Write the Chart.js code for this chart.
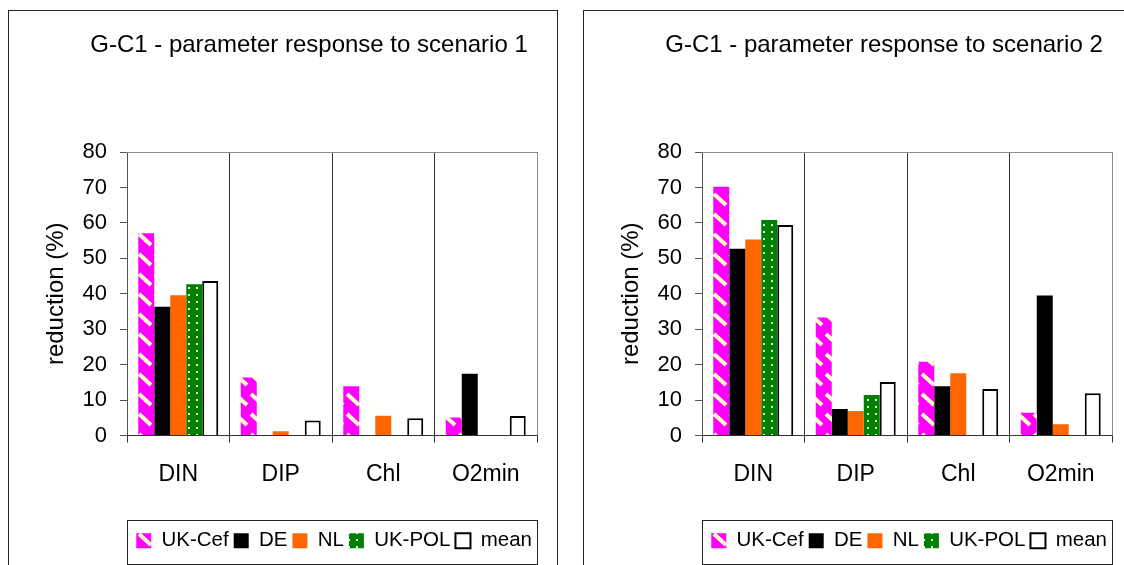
<!DOCTYPE html>
<html>
<head>
<meta charset="utf-8">
<script src="https://cdn.jsdelivr.net/npm/chart.js@4/dist/chart.umd.min.js"></script>
<style>
    html, body { margin: 0; padding: 0; background: #fff; overflow: hidden; }
    body { width: 1124px; height: 565px; position: relative; }
    .panel { position: absolute; top: 10px; width: 548px; height: 600px; border: 1px solid #222; background: #fff; }
    .panel canvas { position: absolute; left: 0; top: 0; }
</style>
</head>
<body>
<div class="panel" style="left:8px"><canvas id="chart1" width="548" height="554"></canvas></div>
<div class="panel" style="left:583px"><canvas id="chart2" width="548" height="554"></canvas></div>
<script>
// ---- data ----
const categories = ['DIN', 'DIP', 'Chl', 'O2min'];
const seriesNames = ['UK-Cef', 'DE', 'NL', 'UK-POL', 'mean'];
const yTickValues = [0, 10, 20, 30, 40, 50, 60, 70, 80];

// scenario 1
const s1UkCef = [57.1, 16.4, 13.9, 5.1];
const s1De    = [36.3, null, null, 17.4];
const s1Nl    = [39.6, 1.2, 5.6, null];
const s1UkPol = [42.7, null, null, null];
const s1Mean  = [43.6, 4.2, 4.9, 5.5];

// scenario 2
const s2UkCef = [70.2, 33.3, 20.8, 6.4];
const s2De    = [52.7, 7.5, 13.9, 39.5];
const s2Nl    = [55.3, 6.9, 17.6, 3.2];
const s2UkPol = [60.8, 11.4, null, null];
const s2Mean  = [59.4, 15.1, 13.1, 11.9];

const FONT = '"Liberation Sans", Arial, sans-serif';

// ---- fill patterns (Excel-like) ----
function makeStripePattern() {
    const c = document.createElement('canvas');
    c.width = 16; c.height = 20;
    const g = c.getContext('2d');
    g.fillStyle = '#ff00ff';
    g.fillRect(0, 0, 16, 20);
    g.strokeStyle = '#ffffc4';
    g.lineWidth = 4;
    g.beginPath();
    g.moveTo(2, 3);
    g.lineTo(14, 14);
    g.stroke();
    return g.createPattern(c, 'repeat');
}

function makeDotPattern() {
    const c = document.createElement('canvas');
    c.width = 8; c.height = 7;
    const g = c.getContext('2d');
    g.fillStyle = '#008000';
    g.fillRect(0, 0, 8, 7);
    g.fillStyle = '#eef5dd';
    g.fillRect(3, 3, 2, 2);
    return g.createPattern(c, 'repeat');
}

const stripeFill = makeStripePattern();
const dotFill = makeDotPattern();

// title + plot frame + legend frame
const framePlugin = {
    id: 'frame',
    afterDraw(chart, args, opts) {
        const { ctx, chartArea: a, legend } = chart;
        ctx.save();
        // plot area top/right border
        ctx.strokeStyle = '#8c8c8c';
        ctx.lineWidth = 1;
        ctx.beginPath();
        ctx.moveTo(a.left, a.top + 0.5);
        ctx.lineTo(a.right + 0.5, a.top + 0.5);
        ctx.lineTo(a.right + 0.5, a.bottom);
        ctx.stroke();
        // legend box
        const cy = legend.top + legend.options.labels.padding + legend.options.labels.font.size / 2;
        ctx.strokeStyle = '#222';
        ctx.strokeRect(a.left + 0.5, Math.round(cy - 21) + 0.5, a.right - a.left, 44);
        // title
        ctx.fillStyle = '#000';
        ctx.font = '24px ' + FONT;
        ctx.textAlign = 'center';
        ctx.textBaseline = 'middle';
        ctx.fillText(opts.text, 300, 34);
        ctx.restore();
    }
};

function buildChart(canvasId, titleText, uk, de, nl, pol, mean) {
    const ctx = document.getElementById(canvasId).getContext('2d');
    const values = [uk, de, nl, pol, mean];
    const fills = [stripeFill, '#000000', '#ff6600', dotFill, '#ffffff'];
    const datasets = seriesNames.map((name, i) => ({
        label: name,
        data: values[i],
        backgroundColor: fills[i],
        borderColor: i === 4 ? '#000000' : fills[i],
        borderWidth: i === 4 ? 2 : 0,
        categoryPercentage: 0.78,
        barPercentage: 1.0
    }));

    return new Chart(ctx, {
        type: 'bar',
        data: { labels: categories, datasets: datasets },
        plugins: [framePlugin],
        options: {
            responsive: false,
            animation: false,
            events: [],
            layout: { padding: { left: 0, right: 20, top: 141, bottom: 4 } },
            plugins: {
                frame: { text: titleText },
                tooltip: { enabled: false },
                legend: {
                    position: 'bottom',
                    align: 'end',
                    labels: {
                        color: '#000',
                        boxWidth: 15,
                        boxHeight: 15,
                        padding: 5,
                        font: { family: FONT, size: 20.5 }
                    }
                }
            },
            scales: {
                x: {
                    grid: {
                        display: true,
                        drawOnChartArea: true,
                        drawTicks: true,
                        tickLength: 7,
                        color: '#333'
                    },
                    border: { display: true, color: '#333', width: 1 },
                    ticks: {
                        color: '#000',
                        padding: 18,
                        font: { family: FONT, size: 23 }
                    },
                    afterFit: scale => { scale.height = 90; }
                },
                y: {
                    min: 0,
                    max: 80,
                    afterBuildTicks: scale => {
                        scale.ticks = yTickValues.map(v => ({ value: v }));
                    },
                    grid: {
                        drawOnChartArea: false,
                        drawTicks: true,
                        tickLength: 7,
                        color: '#555'
                    },
                    border: { display: true, color: '#555', width: 1 },
                    ticks: {
                        color: '#000',
                        padding: 13,
                        font: { family: FONT, size: 22 }
                    },
                    title: {
                        display: true,
                        text: 'reduction (%)',
                        color: '#000',
                        padding: { top: 33, bottom: 0 },
                        font: { family: FONT, size: 24 }
                    },
                    afterFit: scale => { scale.width = 118; }
                }
            }
        }
    });
}

buildChart('chart1', 'G-C1 - parameter response to scenario 1', s1UkCef, s1De, s1Nl, s1UkPol, s1Mean);
buildChart('chart2', 'G-C1 - parameter response to scenario 2', s2UkCef, s2De, s2Nl, s2UkPol, s2Mean);
</script>
</body>
</html>
